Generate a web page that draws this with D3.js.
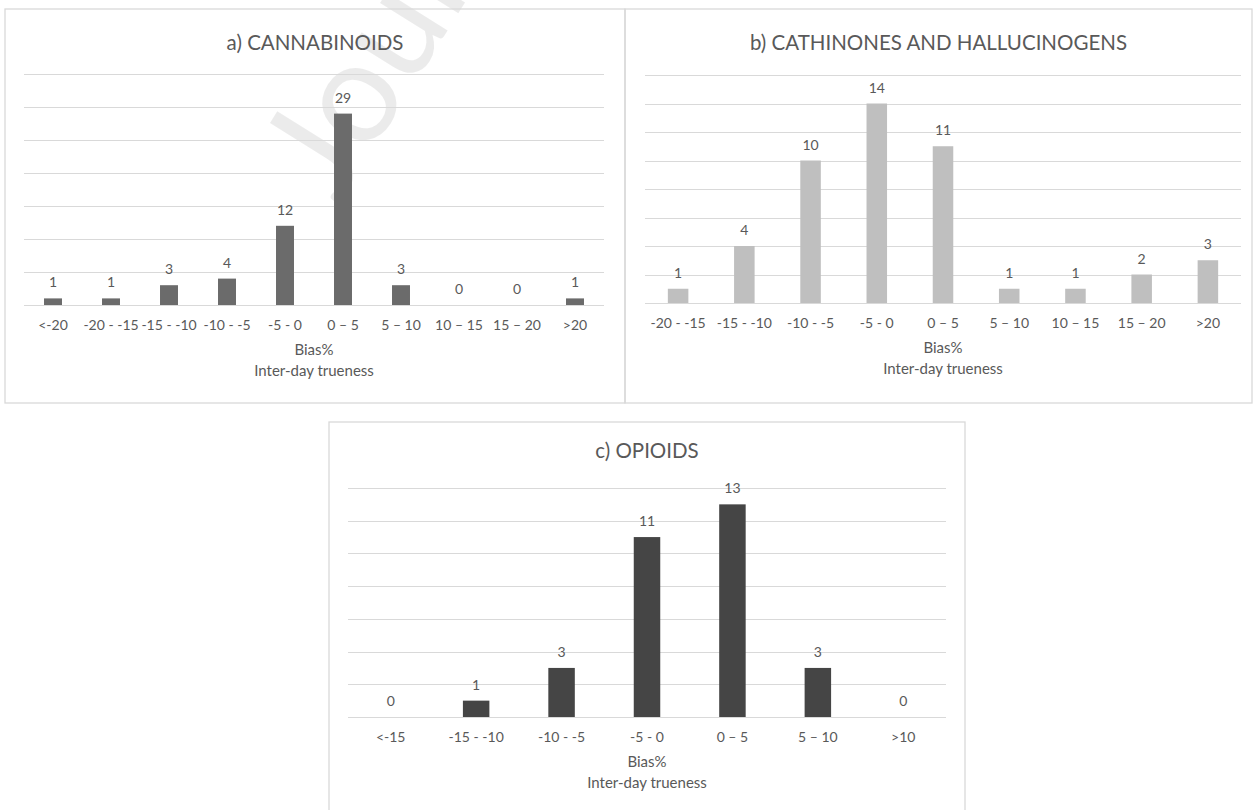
<!DOCTYPE html>
<html>
<head>
<meta charset="utf-8">
<script src="https://cdn.jsdelivr.net/npm/d3@7"></script>
<style>
  html, body { margin: 0; padding: 0; background: #fff; }
  svg { display: block; }
  text { font-family: Lato, "Open Sans", sans-serif; fill: #595959; }
</style>
</head>
<body>
<svg id="chart" width="1256" height="810"></svg>
<script>
// Inter-day trueness: number of analytes per Bias% bin, three compound classes
const titleA = "a) CANNABINOIDS";
const catsA = ["<-20", "-20 - -15", "-15 - -10", "-10 - -5", "-5 - 0", "0 – 5", "5 – 10", "10 – 15", "15 – 20", ">20"];
const valsA = [1, 1, 3, 4, 12, 29, 3, 0, 0, 1];

const titleB = "b)  CATHINONES AND HALLUCINOGENS";
const catsB = ["-20 - -15", "-15 - -10", "-10 - -5", "-5 - 0", "0 – 5", "5 – 10", "10 – 15", "15 – 20", ">20"];
const valsB = [1, 4, 10, 14, 11, 1, 1, 2, 3];

const titleC = "c) OPIOIDS";
const catsC = ["<-15", "-15 - -10", "-10 - -5", "-5 - 0", "0 – 5", "5 – 10", ">10"];
const valsC = [0, 1, 3, 11, 13, 3, 0];

const axisTitle1 = "Bias%";
const axisTitle2 = "Inter-day trueness";

const svg = d3.select("#chart");

// faint diagonal watermark behind the charts
svg.append("text")
  .attr("transform", "translate(338,206) rotate(-58)")
  .style("font-size", "142px")
  .style("fill", "#000")
  .style("fill-opacity", 0.08)
  .text("Journal Pre-proof");

function panel(cfg) {
  const g = svg.append("g");
  // frame
  g.append("rect")
    .attr("x", cfg.box[0]).attr("y", cfg.box[1])
    .attr("width", cfg.box[2] - cfg.box[0]).attr("height", cfg.box[3] - cfg.box[1])
    .attr("fill", "none").attr("stroke", "#d9d9d9").attr("stroke-width", 1.3);

  const x = d3.scaleBand()
    .domain(cfg.cats)
    .range([cfg.left, cfg.right])
    .paddingInner(0.69).paddingOuter(0.345);
  const y = d3.scaleLinear()
    .domain([0, cfg.max])
    .range([cfg.base, cfg.top]);

  // horizontal gridlines
  const ticks = d3.range(0, cfg.max + 0.001, cfg.step);
  g.append("g").selectAll("line").data(ticks).join("line")
    .attr("x1", cfg.left).attr("x2", cfg.right)
    .attr("y1", d => Math.round(y(d)) + 0.5).attr("y2", d => Math.round(y(d)) + 0.5)
    .attr("stroke", "#d9d9d9").attr("stroke-width", 1.2);

  // bars
  g.append("g").selectAll("rect").data(cfg.vals).join("rect")
    .attr("x", (d, i) => x(cfg.cats[i]))
    .attr("width", x.bandwidth())
    .attr("y", d => y(d))
    .attr("height", d => y(0) - y(d))
    .attr("fill", cfg.color);

  // value labels
  g.append("g").selectAll("text").data(cfg.vals).join("text")
    .attr("x", (d, i) => x(cfg.cats[i]) + x.bandwidth() / 2)
    .attr("y", d => y(d) - 11)
    .attr("text-anchor", "middle")
    .style("font-size", "14px")
    .text(d => d);

  // category axis (labels only)
  const ax = g.append("g")
    .attr("transform", `translate(0,${cfg.base})`)
    .call(d3.axisBottom(x).tickSize(0).tickPadding(15));
  ax.select(".domain").remove();
  ax.selectAll("text")
    .style("font-size", "14px")
    .style("font-family", "Lato, 'Open Sans', sans-serif")
    .attr("fill", "#595959");

  const cx = (cfg.left + cfg.right) / 2;
  g.append("text")
    .attr("x", cx).attr("y", cfg.base + 50)
    .attr("text-anchor", "middle").style("font-size", "15px")
    .text(axisTitle1);
  g.append("text")
    .attr("x", cx).attr("y", cfg.base + 71)
    .attr("text-anchor", "middle").style("font-size", "15px")
    .text(axisTitle2);

  g.append("text")
    .attr("x", (cfg.box[0] + cfg.box[2]) / 2).attr("y", cfg.titleY)
    .attr("text-anchor", "middle").style("font-size", "20.5px")
    .text(cfg.title);
}

panel({
  title: titleA, cats: catsA, vals: valsA, color: "#6b6b6b",
  box: [5, 9, 625, 403], left: 24, right: 604, top: 74, base: 305,
  max: 35, step: 5, titleY: 50
});

panel({
  title: titleB, cats: catsB, vals: valsB, color: "#bfbfbf",
  box: [625, 9, 1252, 403], left: 645, right: 1241, top: 75, base: 303,
  max: 16, step: 2, titleY: 50
});

panel({
  title: titleC, cats: catsC, vals: valsC, color: "#454545",
  box: [329, 422, 965, 830], left: 348, right: 946, top: 488, base: 717,
  max: 14, step: 2, titleY: 458
});
</script>
</body>
</html>
